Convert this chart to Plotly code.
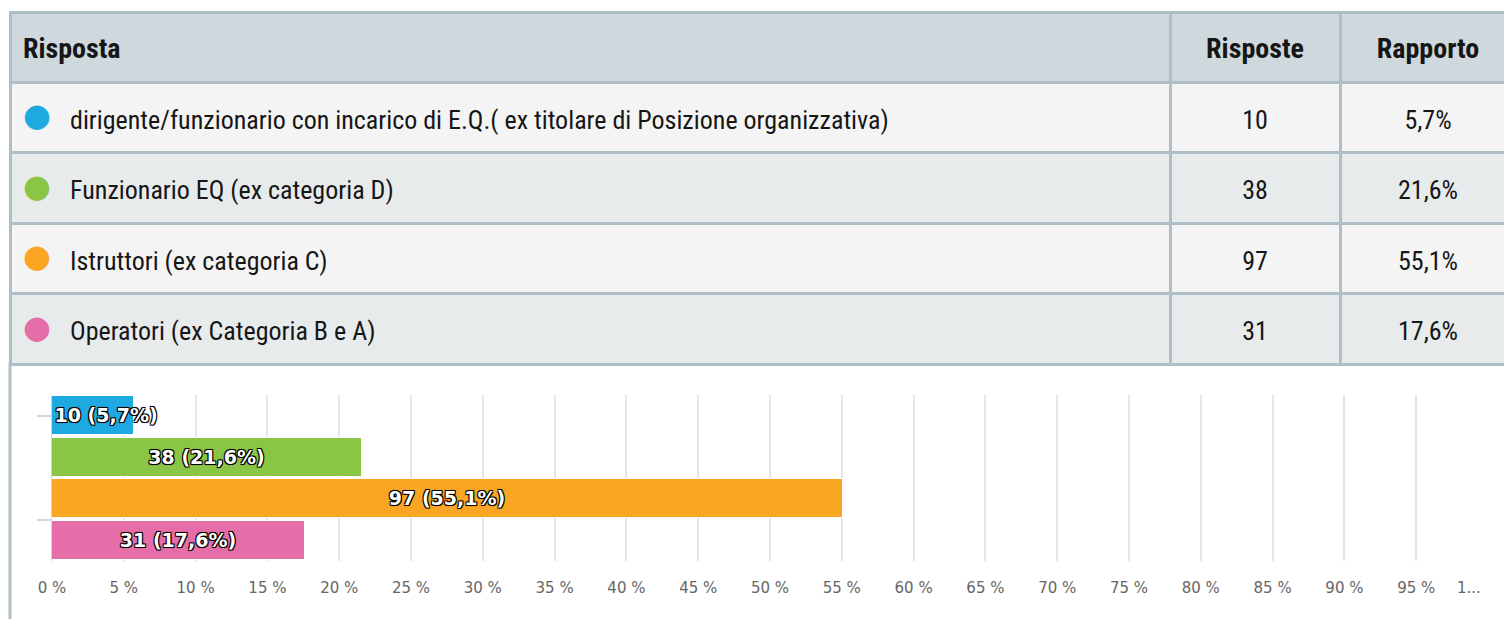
import plotly.graph_objects as go

categories = [
    "dirigente/funzionario con incarico di E.Q.( ex titolare di Posizione organizzativa)",
    "Funzionario EQ (ex categoria D)",
    "Istruttori (ex categoria C)",
    "Operatori (ex Categoria B e A)",
]
counts = [10, 38, 97, 31]
percents = [5.7, 21.6, 55.1, 17.6]
colors = ["#1fa9e1", "#8bc546", "#faa624", "#e66ea8"]
header_labels = ["Risposta", "Risposte", "Rapporto"]
tick_values = [0, 5, 10, 15, 20, 25, 30, 35, 40, 45, 50, 55, 60, 65, 70, 75, 80, 85, 90, 95, 100]
tick_labels = [f"{v} %" for v in tick_values[:-1]] + ["1..." + "\u00a0" * 8]

W, H = 1530, 619
OFF = 8  # page body margin


def px(x):
    return (x - OFF) / W


def py(y):
    return 1 - (y - OFF) / H


def it(v):
    return f"{v:.1f}".replace(".", ",")


pct_text = [it(p) + "%" for p in percents]
bar_text = [f"{c} ({it(p)}%)" for c, p in zip(counts, percents)]

row_fill = ["#f4f4f4", "#e8ebec", "#f4f4f4", "#e8ebec"]
TABLE_FONT = "Liberation Sans Narrow, Roboto Condensed, Arial Narrow, sans-serif"
BORDER = "#b0bec5"
CLEAR = "rgba(0,0,0,0)"
NOLINE = dict(color=CLEAR, width=0)
RIGHT = W + OFF
COL1, COL2, TEXT_RIGHT = 1170, 1340, 1516
TOP, HDR_H, ROW_H = 12, 70, 70.5
HEAD_DY, TEXT_DY, DOT_DY = 12, 19, 12
n = len(categories)
tab_h = HDR_H + ROW_H * n
body_top = TOP + HDR_H

fig = go.Figure()

# table cells: fills and borders
fig.add_trace(go.Table(
    domain=dict(x=[px(10), 1], y=[py(TOP + tab_h + 3), py(TOP)]),
    columnwidth=[COL1 - 10, COL2 - COL1, RIGHT - COL2],
    header=dict(values=["", "", ""], fill_color="#cfd8dc",
                line=dict(color=BORDER, width=3), height=HDR_H),
    cells=dict(values=[[""] * n] * 3, fill_color=[row_fill] * 3,
               line=dict(color=BORDER, width=3), height=ROW_H),
))

# header texts
fig.add_trace(go.Table(
    domain=dict(x=[px(15), px(TEXT_RIGHT)], y=[py(TOP + HEAD_DY + HDR_H + 3), py(TOP + HEAD_DY)]),
    columnwidth=[COL1 - 15, COL2 - COL1, TEXT_RIGHT - COL2],
    header=dict(
        values=[f"<b>{h}</b>" for h in header_labels],
        align=["left", "center", "center"],
        fill_color=CLEAR, line=NOLINE,
        font=dict(family=TABLE_FONT, size=28, color="#161616"),
        height=HDR_H,
    ),
))

# answer texts
fig.add_trace(go.Table(
    domain=dict(x=[px(62), px(TEXT_RIGHT)],
                y=[py(body_top + TEXT_DY + ROW_H * n + 3), py(body_top + TEXT_DY)]),
    columnwidth=[COL1 - 62, COL2 - COL1, TEXT_RIGHT - COL2],
    header=dict(values=["", "", ""], height=0.01, fill_color=CLEAR, line=NOLINE),
    cells=dict(
        values=[categories, counts, pct_text],
        align=["left", "center", "center"],
        fill_color=CLEAR, line=NOLINE,
        font=dict(family=TABLE_FONT, size=26, color="#161616"),
        height=ROW_H,
    ),
))

# coloured dots in front of the answers
fig.add_trace(go.Table(
    domain=dict(x=[px(10), px(64)], y=[py(TOP + DOT_DY + tab_h + 3), py(TOP + DOT_DY)]),
    columnwidth=[1],
    header=dict(values=[""], fill_color=CLEAR, line=NOLINE, height=HDR_H),
    cells=dict(
        values=[["\u25cf"] * n],
        align="center",
        fill_color=CLEAR, line=NOLINE,
        font=dict(family="DejaVu Sans", size=32, color=[colors]),
        height=ROW_H,
    ),
))

for i in range(n):
    fig.add_trace(go.Bar(
        x=[percents[i]], y=[i], orientation="h", width=0.95,
        marker=dict(color=colors[i], line=dict(color="white", width=1)),
        text=[bar_text[i]], textposition="inside",
        insidetextanchor="start" if percents[i] < 10 else "middle",
        constraintext="none",
        textfont=dict(family="DejaVu Sans", size=19, color="white", weight="bold",
                      shadow="1px 1px 0 #000, -1px -1px 0 #000, 1px -1px 0 #000, -1px 1px 0 #000, 0 0 2px #000"),
        showlegend=False, hoverinfo="skip",
    ))

fig.update_layout(
    width=W, height=H,
    margin=dict(l=0, r=0, t=0, b=0, autoexpand=False),
    paper_bgcolor="white", plot_bgcolor="white",
    bargap=0,
    xaxis=dict(
        domain=[px(52), px(1488)], range=[0, 100],
        tickvals=tick_values, ticktext=tick_labels,
        showgrid=True, gridcolor="#e6e6e6", gridwidth=1.5,
        zeroline=False, showline=False, ticks="", ticklabelstandoff=16,
        tickfont=dict(family="DejaVu Sans", size=15, color="#666666"),
        fixedrange=True, automargin=False,
    ),
    yaxis=dict(
        domain=[py(561), py(395)], range=[3.5, -0.5],
        tickvals=[0, 2.5], ticks="outside", ticklen=14, tickcolor="#ccd6eb", tickwidth=2,
        showticklabels=False, showgrid=False, zeroline=False,
        showline=True, linecolor="#ccd6eb", linewidth=1,
        fixedrange=True, automargin=False,
    ),
    shapes=[dict(type="line", xref="paper", yref="paper", x0=px(10), x1=px(10),
                 y0=0, y1=py(362), line=dict(color=BORDER, width=3))],
)

fig.write_html("out.html")
